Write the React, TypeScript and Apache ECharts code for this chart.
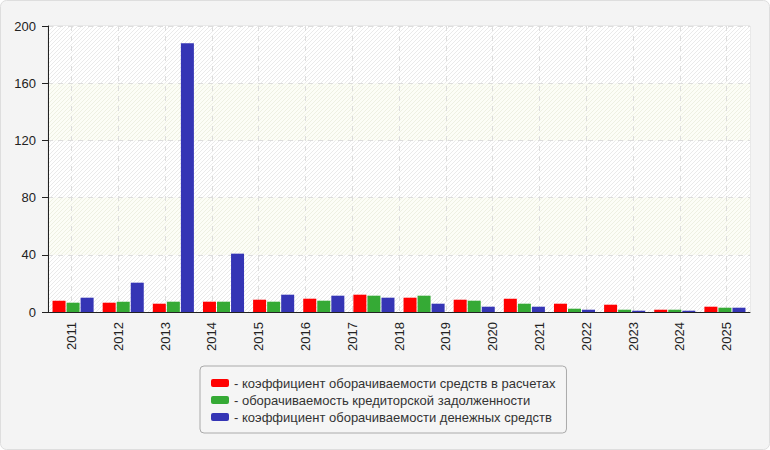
import React, { useEffect, useRef } from "react";
import * as echarts from "echarts";

const yearLabels = ["2011", "2012", "2013", "2014", "2015", "2016", "2017", "2018", "2019", "2020", "2021", "2022", "2023", "2024", "2025"];
const barSlots = ["2011", "2012", "2013", "2014", "2015", "2016", "2017", "2018", "2019", "2020", "2021", "2022", "2023", "2024"];

const seriesNames = [
  "коэффициент оборачиваемости средств в расчетах",
  "оборачиваемость кредиторской задолженности",
  "коэффициент оборачиваемости денежных средств",
];
const receivablesTurnover = [7.9, 6.5, 5.8, 7.2, 8.6, 9.3, 12.1, 10.0, 8.6, 9.3, 5.8, 5.1, 1.6, 3.7];
const payablesTurnover = [6.5, 7.2, 7.2, 7.2, 7.2, 7.9, 11.4, 11.4, 7.9, 5.8, 2.3, 1.6, 1.6, 3.0];
const cashTurnover = [10.0, 20.5, 188, 40.8, 12.1, 11.4, 10.0, 5.8, 3.7, 3.7, 1.6, 0.9, 0.9, 3.0];
const colors = ["#ff0000", "#35aa35", "#3535b5"];

const yTicks = { min: 0, max: 200, interval: 40 };

function hatch(bg: string, line: string) {
  const svg =
    `<svg xmlns="http://www.w3.org/2000/svg" width="4" height="4">` +
    `<rect width="4" height="4" fill="${bg}"/>` +
    `<rect x="3" y="0" width="1" height="1" fill="${line}"/>` +
    `<rect x="2" y="1" width="1" height="1" fill="${line}"/>` +
    `<rect x="1" y="2" width="1" height="1" fill="${line}"/>` +
    `<rect x="0" y="3" width="1" height="1" fill="${line}"/>` +
    `</svg>`;
  return {
    image: "data:image/svg+xml;charset=utf-8," + encodeURIComponent(svg),
    repeat: "repeat",
    imageWidth: 4,
    imageHeight: 4,
  } as any;
}

export default function App() {
  const ref = useRef<HTMLDivElement>(null);
  useEffect(() => {
    document.body.style.margin = "0";
    const chart = echarts.init(ref.current!, undefined, { renderer: "svg" });
    const font = 'Arial, "Liberation Sans", sans-serif';
    const data = [receivablesTurnover, payablesTurnover, cashTurnover];
    chart.setOption({
      animation: false,
      backgroundColor: "transparent",
      graphic: [
        {
          type: "rect",
          z: -100,
          silent: true,
          shape: { x: 0.5, y: 0.5, width: 769, height: 449, r: 6 },
          style: { fill: "#f4f4f4", stroke: "#dedede", lineWidth: 1 },
        },
      ],
      grid: {
        left: 48,
        top: 26,
        right: 20,
        bottom: 138,
        show: true,
        backgroundColor: "transparent",
        borderColor: "#dddddd",
        borderWidth: 1,
      },
      legend: {
        orient: "vertical",
        left: 200,
        top: 366,
        padding: [10, 11, 9, 11],
        itemGap: 3,
        itemWidth: 18,
        itemHeight: 8,
        icon: "roundRect",
        borderColor: "#aaaaaa",
        borderWidth: 1,
        borderRadius: 4,
        backgroundColor: "#f5f5f5",
        formatter: (name: string) => "- " + name,
        textStyle: { fontSize: 13, color: "#333", fontFamily: font, lineHeight: 14 },
        data: seriesNames,
      },
      xAxis: [
        {
          type: "category",
          data: yearLabels,
          boundaryGap: true,
          axisLine: { lineStyle: { color: "#222", width: 1 } },
          axisTick: { alignWithLabel: true, length: 5, lineStyle: { color: "#222" } },
          axisLabel: { rotate: 90, margin: 10, fontSize: 13, color: "#222", fontFamily: font, interval: 0 },
          splitLine: { show: true, alignWithLabel: true, lineStyle: { color: "#dddddd", type: [5, 5] } },
        },
        {
          type: "category",
          data: barSlots,
          boundaryGap: true,
          show: false,
          position: "bottom",
        },
      ],
      yAxis: {
        type: "value",
        ...yTicks,
        axisLine: { show: true, lineStyle: { color: "#222", width: 1 } },
        axisTick: { show: true, length: 6, lineStyle: { color: "#222" } },
        axisLabel: { margin: 12, fontSize: 13, color: "#222", fontFamily: font },
        splitLine: { show: true, lineStyle: { color: "#dddddd", type: [5, 5] } },
        splitArea: {
          show: true,
          areaStyle: { color: [hatch("#ffffff", "#eaeaea"), hatch("#fcfdf6", "#eef0e2")] },
        },
      },
      series: seriesNames.map((name, i) => ({
        name,
        type: "bar",
        xAxisIndex: 1,
        data: data[i],
        barWidth: 13,
        barGap: "8%",
        itemStyle: { color: colors[i] },
      })),
    });
    return () => chart.dispose();
  }, []);
  return <div ref={ref} style={{ width: 770, height: 450 }} />;
}
